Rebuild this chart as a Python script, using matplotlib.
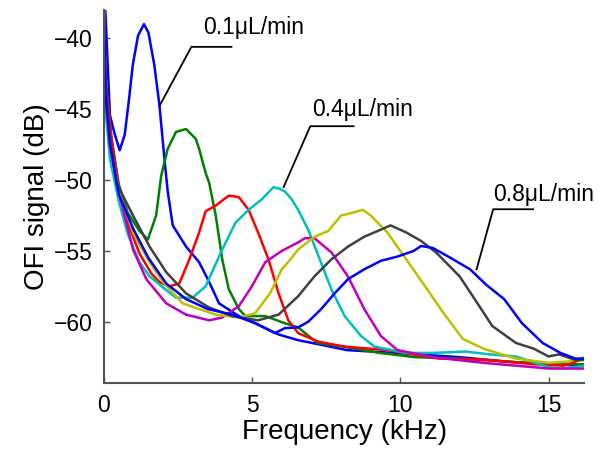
import matplotlib
matplotlib.use("Agg")
import matplotlib.pyplot as plt

plt.rcParams['font.family'] = ['Liberation Sans', 'DejaVu Sans']

# ---- data ----
blue01_x = [0, 0.05, 0.2, 0.34, 0.53, 0.7, 0.85, 0.97, 1.15, 1.35, 1.5, 1.7, 1.87, 2.04, 2.15, 2.32, 2.77, 3.21, 3.55, 3.88, 4.55, 5.1, 5.89, 6.55, 7.5, 8.2, 9.0, 10.57, 12.0, 13.5, 15.0, 16.2]
blue01_y = [-36, -38.2, -45.4, -46.6, -47.9, -46.8, -44.2, -41.9, -39.8, -39.0, -39.6, -41.9, -44.7, -48.5, -50.8, -53.2, -54.7, -55.8, -57.2, -58.7, -59.6, -60.1, -60.9, -61.3, -61.7, -62.0, -62.1, -62.3, -62.5, -62.8, -63.0, -63.1]

green_x = [0, 0.05, 0.25, 0.5, 0.8, 1.2, 1.48, 1.76, 1.93, 2.15, 2.43, 2.77, 3.1, 3.21, 3.43, 3.55, 3.77, 3.99, 4.21, 4.55, 4.77, 5.44, 6.1, 6.55, 7.2, 8.2, 9.3, 10.5, 12.0, 13.5, 15.0, 16.2]
green_y = [-37, -43, -47, -50.3, -52.3, -53.6, -54.2, -52.5, -49.7, -47.8, -46.6, -46.4, -47.1, -47.8, -49.5, -50.2, -52.5, -55.6, -57.7, -59.1, -59.6, -59.6, -60.1, -60.4, -61.5, -61.8, -62.2, -62.5, -62.6, -62.8, -63.0, -63.0]

red_x = [0, 0.05, 0.25, 0.5, 0.8, 1.2, 1.6, 1.87, 2.2, 2.54, 2.88, 3.21, 3.43, 3.77, 4.21, 4.55, 4.88, 5.2, 5.55, 5.89, 6.22, 6.55, 7.22, 8.1, 9.55, 11.3, 13.0, 14.5, 15.5, 16.2]
red_y = [-37, -43, -47, -50.6, -53, -55.2, -56.6, -57.2, -57.5, -57.3, -55.6, -53.7, -52.2, -51.8, -51.1, -51.2, -52.1, -53.7, -55.6, -58.0, -59.9, -60.8, -61.4, -61.75, -62.0, -62.6, -62.7, -63.0, -63.1, -62.6]

cyan_x = [0, 0.05, 0.2, 0.5, 0.8, 1.2, 1.54, 2.0, 2.43, 2.99, 3.43, 3.99, 4.44, 4.88, 5.33, 5.72, 5.9, 6.1, 6.33, 6.55, 6.89, 7.28, 7.67, 8.12, 8.67, 9.12, 10.2, 11.1, 12.2, 13.0, 13.9, 15.0, 15.5, 16.2]
cyan_y = [-38, -45, -48.5, -51.5, -53.8, -55.8, -56.8, -57.6, -58.3, -58.3, -57.5, -54.9, -53.0, -52.1, -51.35, -50.5, -50.6, -50.8, -51.35, -52.1, -53.5, -55.6, -57.7, -59.6, -61.0, -61.75, -62.2, -62.2, -62.1, -62.3, -62.45, -63.2, -63.3, -63.1]

magenta_x = [0, 0.05, 0.2, 0.53, 0.98, 1.43, 2.1, 2.77, 3.55, 3.99, 4.55, 4.99, 5.44, 6.0, 6.55, 6.78, 7.1, 7.67, 8.23, 8.78, 9.34, 9.9, 11.1, 12.8, 15.0, 16.2]
magenta_y = [-38, -44, -47.5, -51.1, -54.9, -57.0, -58.7, -59.5, -59.9, -59.7, -58.9, -57.5, -55.8, -55.0, -54.4, -54.1, -54.1, -55.1, -56.8, -59.1, -61.0, -62.0, -62.5, -62.9, -63.3, -63.3]

yellow_x = [0, 0.05, 0.2, 0.5, 1.0, 1.54, 2.0, 2.65, 3.77, 4.55, 5.1, 5.6, 6.0, 6.33, 6.55, 7.1, 7.56, 8.0, 8.4, 8.73, 9.0, 9.56, 10.2, 10.9, 11.46, 12.1, 12.8, 13.9, 15.0, 15.7, 16.2]
yellow_y = [-38, -44, -47.5, -50.8, -53.8, -55.8, -57.2, -58.7, -59.5, -59.7, -59.4, -58.0, -56.3, -55.5, -54.9, -54.0, -53.6, -52.5, -52.3, -52.1, -52.5, -53.7, -55.6, -57.7, -59.4, -61.2, -61.9, -62.6, -62.9, -62.8, -62.5]

gray_x = [0, 0.05, 0.2, 0.42, 0.98, 1.54, 2.1, 2.77, 3.55, 4.33, 5.2, 5.89, 6.55, 7.1, 7.67, 8.23, 8.78, 9.34, 9.67, 10.2, 10.7, 11.2, 12.0, 12.6, 13.1, 13.9, 14.5, 15.0, 15.35, 15.9, 16.2]
gray_y = [-38, -43, -47, -50.2, -52.5, -54.7, -56.5, -58.0, -59.0, -59.6, -59.9, -59.5, -58.2, -56.8, -55.6, -54.7, -54.0, -53.5, -53.2, -53.7, -54.3, -55.1, -56.8, -58.7, -60.3, -61.5, -61.9, -62.45, -62.3, -62.7, -62.7]

blue08_x = [0, 0.05, 0.2, 0.5, 1.0, 1.5, 2.1, 2.77, 3.5, 4.33, 5.1, 5.77, 6.1, 6.55, 6.89, 7.33, 7.78, 8.23, 8.78, 9.34, 9.9, 10.45, 10.7, 11.1, 11.7, 12.35, 12.9, 13.5, 14.1, 14.8, 15.4, 15.9, 16.2]
blue08_y = [-38, -44, -47.5, -51, -53.5, -55.5, -57.3, -58.4, -59.1, -59.5, -60.1, -60.8, -60.45, -60.4, -60.0, -59.1, -58.0, -57.0, -56.3, -55.7, -55.4, -55.0, -54.65, -54.8, -55.5, -56.3, -57.4, -58.4, -60.1, -61.5, -62.2, -62.6, -62.6]

labels = ['0.1\u03bcL/min', '0.4\u03bcL/min', '0.8\u03bcL/min']
x_ticks = [0, 5, 10, 15]
y_ticks = [-60, -55, -50, -45, -40]

series = [
    (blue01_x, blue01_y, (0, 0, 1)),
    (green_x, green_y, (0, 0.5, 0)),
    (red_x, red_y, (1, 0, 0)),
    (cyan_x, cyan_y, (0, 0.75, 0.75)),
    (magenta_x, magenta_y, (0.75, 0, 0.75)),
    (yellow_x, yellow_y, (0.75, 0.75, 0)),
    (gray_x, gray_y, (0.25, 0.25, 0.25)),
    (blue08_x, blue08_y, (0, 0, 1)),
]

fig = plt.figure(figsize=(6.01, 4.55), dpi=100)
ax = fig.add_axes([0.173, 0.158, 0.799, 0.82])

for xs, ys, c in series:
    ax.plot(xs, ys, color=c, lw=1.8)

ax.set_xlim(0, 16.2)
ax.set_ylim(-64.33, -38.0)
ax.set_xticks(x_ticks)
ax.set_yticks(y_ticks)
ax.set_yticklabels(['\u2212%d' % abs(v) for v in y_ticks])
ax.tick_params(direction='in', length=4, width=1, colors=(0.33, 0.33, 0.33),
               labelcolor='black', labelsize=16.5, pad=8)
for s in ['top', 'right']:
    ax.spines[s].set_visible(False)
for s in ['left', 'bottom']:
    ax.spines[s].set_color((0.33, 0.33, 0.33))
    ax.spines[s].set_linewidth(1.5)

ax.set_xlabel('Frequency (kHz)', fontsize=20, labelpad=1)
ax.set_ylabel('OFI signal (dB)', fontsize=20, labelpad=3)

# leader lines and annotations
lk = dict(color='black', lw=1.3, clip_on=False)
ax.plot([1.89, 2.95, 4.3], [-44.7, -40.6, -40.6], **lk)
ax.text(3.36, -39.7, labels[0], fontsize=16.5, ha='left', va='baseline')
ax.plot([6.06, 6.96, 8.42], [-50.5, -46.2, -46.2], **lk)
ax.text(7.02, -45.48, labels[1], fontsize=16.5, ha='left', va='baseline')
ax.plot([12.57, 13.13, 14.48], [-56.3, -52.06, -52.06], **lk)
ax.text(13.13, -51.47, labels[2], fontsize=16.5, ha='left', va='baseline')

fig.savefig('out.png', dpi=100)
